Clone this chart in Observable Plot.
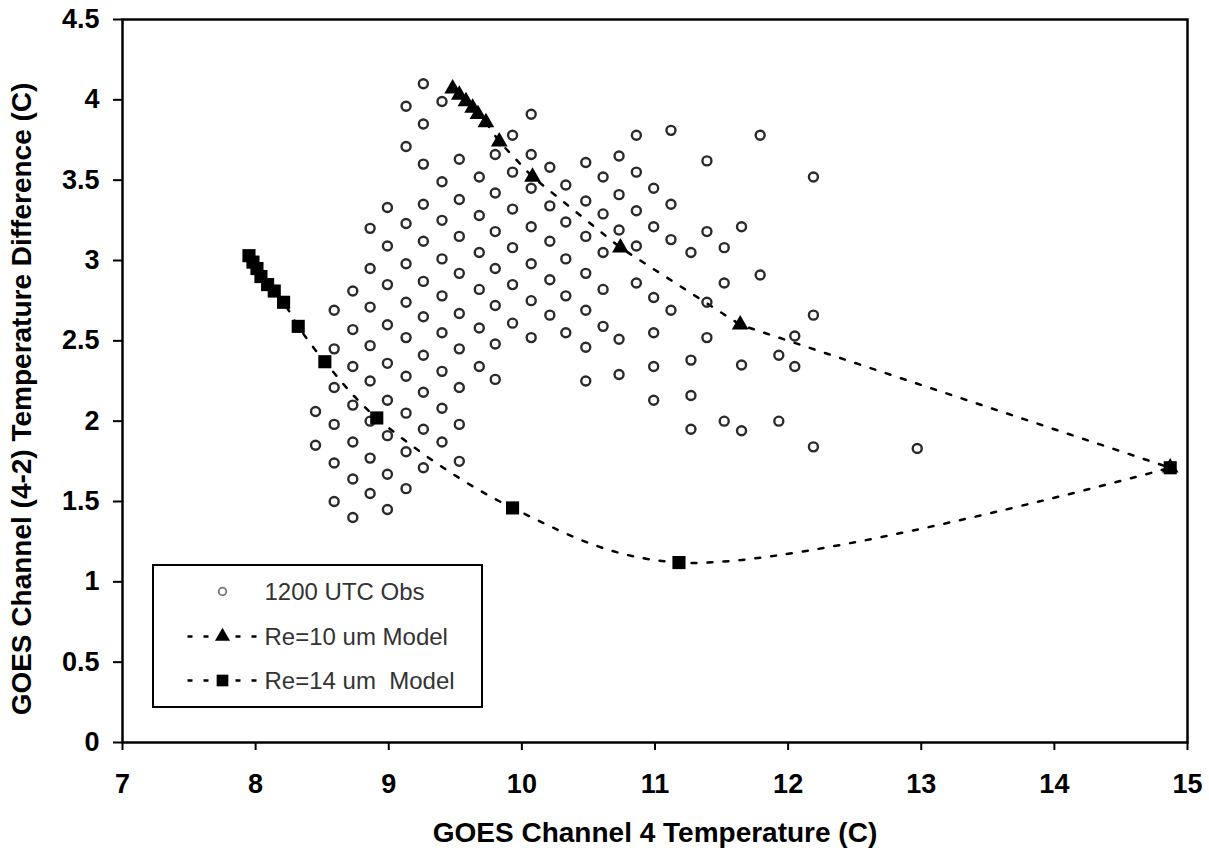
<!DOCTYPE html>
<html><head><meta charset="utf-8">
<script src="https://cdn.jsdelivr.net/npm/d3@7"></script>
<script src="https://cdn.jsdelivr.net/npm/@observablehq/plot@0.6"></script>
<style>
body{margin:0;background:#fff;}
#wrap{position:relative;width:1209px;height:854px;font-family:"Liberation Sans",Arial,sans-serif;}
#wrap svg.plot text{font-weight:bold;}
#legend{position:absolute;left:152px;top:564px;width:331px;height:144px;box-sizing:border-box;border:2.5px solid #000;background:#fff;}
#legend span{position:absolute;font-size:24px;color:#333;white-space:pre;line-height:1;}
</style></head><body><div id="wrap"></div>
<script>
// Observations, grouped by columns of equal channel-4 temperature
const obsColumnX = [8.45, 8.59, 8.73, 8.86, 8.99, 9.13, 9.26, 9.40, 9.53, 9.68, 9.80, 9.93, 10.07, 10.21, 10.33, 10.48, 10.61, 10.73, 10.86, 10.99, 11.12, 11.27, 11.39, 11.52, 11.65, 11.79, 11.93, 12.05, 12.19, 12.97];
const obsColumnY = [
  [2.06, 1.85],
  [2.69, 2.45, 2.21, 1.98, 1.74, 1.50],
  [2.81, 2.57, 2.34, 2.10, 1.87, 1.64, 1.40],
  [3.20, 2.95, 2.71, 2.47, 2.25, 2.00, 1.77, 1.55],
  [3.33, 3.09, 2.85, 2.60, 2.36, 2.13, 1.91, 1.67, 1.45],
  [3.96, 3.71, 3.23, 2.98, 2.74, 2.52, 2.28, 2.05, 1.81, 1.58],
  [4.10, 3.85, 3.60, 3.35, 3.12, 2.87, 2.65, 2.41, 2.18, 1.95, 1.71],
  [3.99, 3.49, 3.25, 3.01, 2.78, 2.55, 2.31, 2.08, 1.87],
  [3.63, 3.38, 3.15, 2.92, 2.67, 2.45, 2.21, 1.98, 1.75],
  [3.52, 3.28, 3.05, 2.82, 2.58, 2.34],
  [3.66, 3.42, 3.18, 2.95, 2.72, 2.48, 2.26],
  [3.78, 3.55, 3.32, 3.08, 2.85, 2.61],
  [3.91, 3.66, 3.45, 3.21, 2.98, 2.75, 2.52],
  [3.58, 3.34, 3.12, 2.88, 2.66],
  [3.47, 3.24, 3.01, 2.78, 2.55],
  [3.61, 3.37, 3.15, 2.92, 2.69, 2.46, 2.25],
  [3.52, 3.29, 3.05, 2.82, 2.59],
  [3.65, 3.41, 3.19, 2.51, 2.29],
  [3.78, 3.55, 3.31, 3.09, 2.86],
  [3.45, 3.21, 2.77, 2.55, 2.34, 2.13],
  [3.81, 3.35, 3.13, 2.69],
  [3.05, 2.38, 2.16, 1.95],
  [3.62, 3.18, 2.74, 2.52],
  [3.08, 2.86, 2.00],
  [3.21, 2.35, 1.94],
  [3.78, 2.91],
  [2.41, 2.00],
  [2.53, 2.34],
  [3.52, 2.66, 1.84],
  [1.83]
];
// Re = 10 um model
const re10X = [9.48, 9.53, 9.58, 9.63, 9.67, 9.73, 9.83, 10.08, 10.74, 11.64, 14.87];
const re10Y = [4.07, 4.03, 3.99, 3.95, 3.91, 3.86, 3.74, 3.52, 3.08, 2.60, 1.71];
// Re = 14 um model
const re14X = [7.95, 7.98, 8.01, 8.04, 8.09, 8.14, 8.21, 8.32, 8.52, 8.91, 9.93, 11.18, 14.87];
const re14Y = [3.03, 2.99, 2.95, 2.90, 2.85, 2.81, 2.74, 2.59, 2.37, 2.02, 1.46, 1.12, 1.71];

const xTicks = [7, 8, 9, 10, 11, 12, 13, 14, 15];
const yTicks = [0, 0.5, 1, 1.5, 2, 2.5, 3, 3.5, 4, 4.5];
const xTitle = "GOES Channel 4 Temperature (C)";
const yTitle = "GOES Channel (4-2) Temperature Difference (C)";
const legendLabels = ["1200 UTC Obs", "Re=10 um Model", "Re=14 um  Model"];

const obs = obsColumnX.flatMap((x, i) => obsColumnY[i].map(y => ({x, y})));
const re10 = re10X.map((x, i) => ({x, y: re10Y[i]}));
const re14 = re14X.map((x, i) => ({x, y: re14Y[i]}));

const FONT = '"Liberation Sans", Arial, sans-serif';
const DASH = "5,11";
const triR = 6.2, sqR = 7.4, obsR = 4.5;

const chart = Plot.plot({
  width: 1209, height: 854,
  marginLeft: 122, marginRight: 22, marginTop: 19, marginBottom: 112,
  style: {fontFamily: FONT, color: "#000", background: "#fff", overflow: "visible"},
  x: {domain: [7, 15]},
  y: {domain: [0, 4.5]},
  marks: [
    Plot.axisX(xTicks, {tickSize: 8, tickPadding: 23, fontSize: 27, strokeWidth: 2, label: null, tickFormat: d => String(d)}),
    Plot.axisY(yTicks, {tickSize: 9, tickPadding: 14, fontSize: 27, strokeWidth: 2, label: null, tickFormat: d => String(d)}),
    Plot.frame({stroke: "#000", strokeWidth: 2.5}),
    Plot.line(re10, {x: "x", y: "y", curve: "linear", stroke: "#000", strokeWidth: 2.5, strokeDasharray: DASH}),
    Plot.line(re14, {x: "x", y: "y", curve: "catmull-rom", stroke: "#000", strokeWidth: 2.5, strokeDasharray: DASH}),
    Plot.dot(obs, {x: "x", y: "y", r: obsR, stroke: "#2a2a2a", strokeWidth: 2.4, fill: "none"}),
    Plot.dot(re10, {x: "x", y: "y", symbol: "triangle", r: triR, fill: "#000", stroke: "none"}),
    Plot.dot(re14, {x: "x", y: "y", symbol: "square", r: sqR, fill: "#000", stroke: "none"}),
    Plot.text([xTitle], {text: d => d, frameAnchor: "bottom", dy: 91, fontSize: 28, lineAnchor: "middle", textAnchor: "middle", fill: "#000"}),
    Plot.text([yTitle], {text: d => d, frameAnchor: "left", dx: -100, dy: 18, rotate: -90, fontSize: 28, lineAnchor: "middle", textAnchor: "middle", fill: "#000"})
  ]
});
chart.classList.add("plot");
const wrap = document.getElementById("wrap");
wrap.appendChild(chart);

// Legend (inside plot area, lower left)
const legend = d3.select(wrap).append("div").attr("id", "legend");
const lsvg = legend.append("svg").attr("width", 326).attr("height", 139)
  .style("position", "absolute").style("left", "0px").style("top", "0px");
const rows = [25.5, 70.5, 114.5];
const symX = 68.5;
lsvg.append("circle").attr("cx", symX).attr("cy", rows[0]).attr("r", 3.8)
  .attr("fill", "none").attr("stroke", "#777").attr("stroke-width", 1.8);
[1, 2].forEach(k => {
  lsvg.append("line").attr("x1", 33.5).attr("x2", 107.5).attr("y1", rows[k]).attr("y2", rows[k])
    .attr("stroke", "#000").attr("stroke-width", 2.5).attr("stroke-dasharray", DASH);
  const r = k === 1 ? 5.6 : 6.6;
  const sym = k === 1 ? d3.symbolTriangle : d3.symbolSquare;
  lsvg.append("path").attr("d", d3.symbol(sym, Math.PI * r * r)())
    .attr("transform", `translate(${symX},${rows[k]})`).attr("fill", "#000");
});
legendLabels.forEach((t, k) => {
  legend.append("span").text(t).style("left", "110.5px").style("top", (rows[k] - 12) + "px");
});
</script>
</body></html>
